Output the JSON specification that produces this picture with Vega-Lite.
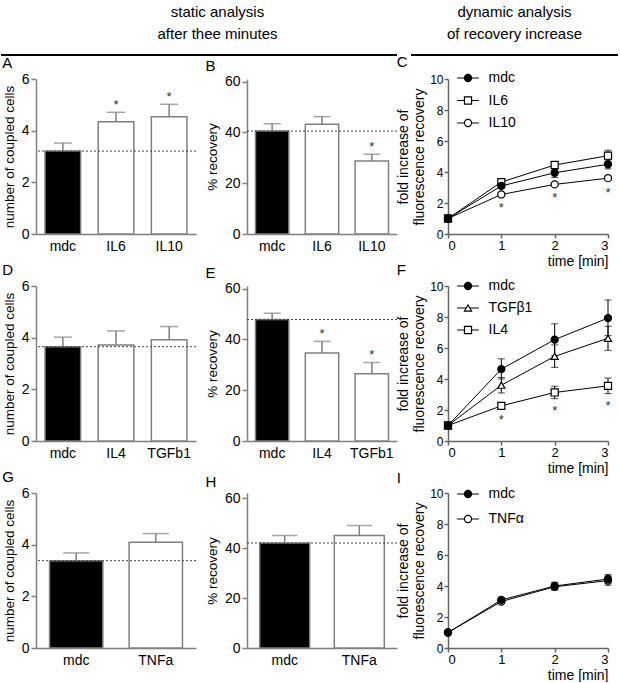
{
  "$schema": "https://vega.github.io/schema/vega-lite/v6.json",
  "padding": {"left": 0, "top": 5, "right": 0, "bottom": 0},
  "config": {
    "font": "Liberation Sans",
    "view": {"stroke": null},
    "axis": {"grid": false, "domainColor": "#808080", "tickColor": "#808080", "domainWidth": 1.5, "tickWidth": 1.5, "labelColor": "black", "titleColor": "black", "titleFontWeight": "normal", "labelFont": "Liberation Sans", "titleFont": "Liberation Sans", "labelOverlap": false},
    "title": {"fontWeight": "normal", "font": "Liberation Sans", "color": "black"}
  },
  "datasets": {
    "A": [{"group": "mdc", "value": 3.21, "upper": 3.52, "sig": false}, {"group": "IL6", "value": 4.35, "upper": 4.71, "sig": true}, {"group": "IL10", "value": 4.54, "upper": 5.02, "sig": true}],
    "B": [{"group": "mdc", "value": 40.5, "upper": 43.4, "sig": false}, {"group": "IL6", "value": 43.2, "upper": 46.2, "sig": false}, {"group": "IL10", "value": 28.7, "upper": 31.4, "sig": true}],
    "D": [{"group": "mdc", "value": 3.65, "upper": 4.02, "sig": false}, {"group": "IL4", "value": 3.72, "upper": 4.26, "sig": false}, {"group": "TGFb1", "value": 3.92, "upper": 4.43, "sig": false}],
    "E": [{"group": "mdc", "value": 47.8, "upper": 50.3, "sig": false}, {"group": "IL4", "value": 34.6, "upper": 39.2, "sig": true}, {"group": "TGFb1", "value": 26.5, "upper": 30.9, "sig": true}],
    "G": [{"group": "mdc", "value": 3.38, "upper": 3.68, "sig": false}, {"group": "TNFa", "value": 4.09, "upper": 4.43, "sig": false}],
    "H": [{"group": "mdc", "value": 42.0, "upper": 45.0, "sig": false}, {"group": "TNFa", "value": 45.0, "upper": 49.0, "sig": false}],
    "C": [
      {"series": "IL10", "time": 0, "value": 1, "sig": false},
      {"series": "IL10", "time": 1, "value": 2.55, "lo": 2.45, "hi": 2.65, "sig": true},
      {"series": "IL10", "time": 2, "value": 3.2, "lo": 3.1, "hi": 3.3, "sig": true},
      {"series": "IL10", "time": 3, "value": 3.6, "lo": 3.45, "hi": 3.75, "sig": true},
      {"series": "IL6", "time": 0, "value": 1, "sig": false},
      {"series": "IL6", "time": 1, "value": 3.35, "lo": 3.2, "hi": 3.5, "sig": false},
      {"series": "IL6", "time": 2, "value": 4.45, "lo": 4.2, "hi": 4.7, "sig": false},
      {"series": "IL6", "time": 3, "value": 5.05, "lo": 4.7, "hi": 5.4, "sig": false},
      {"series": "mdc", "time": 0, "value": 1, "sig": false},
      {"series": "mdc", "time": 1, "value": 3.1, "lo": 2.95, "hi": 3.25, "sig": false},
      {"series": "mdc", "time": 2, "value": 3.95, "lo": 3.65, "hi": 4.25, "sig": false},
      {"series": "mdc", "time": 3, "value": 4.5, "lo": 4.2, "hi": 4.8, "sig": false}
    ],
    "F": [
      {"series": "IL4", "time": 0, "value": 1, "sig": false},
      {"series": "IL4", "time": 1, "value": 2.27, "lo": 2.12, "hi": 2.42, "sig": true},
      {"series": "IL4", "time": 2, "value": 3.13, "lo": 2.73, "hi": 3.53, "sig": true},
      {"series": "IL4", "time": 3, "value": 3.56, "lo": 3.06, "hi": 4.06, "sig": true},
      {"series": "TGFβ1", "time": 0, "value": 1, "sig": false},
      {"series": "TGFβ1", "time": 1, "value": 3.6, "lo": 3.1, "hi": 4.1, "sig": false},
      {"series": "TGFβ1", "time": 2, "value": 5.46, "lo": 4.75, "hi": 6.2, "sig": false},
      {"series": "TGFβ1", "time": 3, "value": 6.63, "lo": 5.85, "hi": 7.4, "sig": false},
      {"series": "mdc", "time": 0, "value": 1, "sig": false},
      {"series": "mdc", "time": 1, "value": 4.64, "lo": 4.0, "hi": 5.3, "sig": false},
      {"series": "mdc", "time": 2, "value": 6.54, "lo": 5.5, "hi": 7.56, "sig": false},
      {"series": "mdc", "time": 3, "value": 7.93, "lo": 6.8, "hi": 9.1, "sig": false}
    ],
    "I": [
      {"series": "TNFα", "time": 0, "value": 1, "sig": false},
      {"series": "TNFα", "time": 1, "value": 3.0, "lo": 2.88, "hi": 3.12, "sig": false},
      {"series": "TNFα", "time": 2, "value": 3.95, "lo": 3.75, "hi": 4.15, "sig": false},
      {"series": "TNFα", "time": 3, "value": 4.35, "lo": 4.05, "hi": 4.65, "sig": false},
      {"series": "mdc", "time": 0, "value": 1, "sig": false},
      {"series": "mdc", "time": 1, "value": 3.1, "lo": 2.95, "hi": 3.25, "sig": false},
      {"series": "mdc", "time": 2, "value": 4.0, "lo": 3.75, "hi": 4.25, "sig": false},
      {"series": "mdc", "time": 3, "value": 4.45, "lo": 4.15, "hi": 4.75, "sig": false}
    ]
  },
  "concat": [
    {
      "hconcat": [
        {
          "width": 361, "height": 1,
          "title": {"text": ["static analysis", "after thee minutes"], "anchor": "middle", "fontSize": 15, "lineHeight": 22, "dx": 1, "offset": 12},
          "data": {"values": [{"section": "static"}]},
          "mark": {"type": "rule", "color": "black", "strokeWidth": 2},
          "encoding": {
            "x": {"datum": -35, "type": "quantitative", "scale": {"domain": [0, 361]}, "axis": null},
            "x2": {"datum": 361},
            "y": {"datum": 0, "type": "quantitative", "scale": {"domain": [0, 1]}, "axis": null}}
        },
        {
          "width": 207, "height": 1,
          "title": {"text": ["dynamic analysis", "of recovery increase"], "anchor": "middle", "fontSize": 15, "lineHeight": 22, "offset": 12},
          "data": {"values": [{"section": "dynamic"}]},
          "mark": {"type": "rule", "color": "black", "strokeWidth": 2},
          "encoding": {"y": {"datum": 0, "type": "quantitative", "scale": {"domain": [0, 1]}, "axis": null}}
        }
      ],
      "spacing": 12
    },
    {
      "concat": [
        {
          "title": {"text": "A", "anchor": "start", "frame": "bounds", "fontSize": 15, "offset": 1},
          "width": 160, "height": 155,
          "data": {"name": "A"},
          "layer": [
            {"mark": {"type": "bar", "stroke": "#808080", "strokeWidth": 1.5},
             "encoding": {
               "x": {"field": "group", "type": "nominal", "sort": null, "scale": {"paddingInner": 0.33, "paddingOuter": 0.17}, "axis": {"title": null, "labelAngle": 0, "ticks": false, "labelFontSize": 14, "labelPadding": 5}},
               "y": {"field": "value", "type": "quantitative", "scale": {"domain": [0, 6], "nice": false}, "axis": {"values": [0, 2, 4, 6], "title": "number of coupled cells", "titleFontSize": 13.5, "labelFontSize": 14, "tickSize": 5, "labelPadding": 2, "titlePadding": 5}},
               "fill": {"condition": {"test": "datum.group === 'mdc'", "value": "black"}, "value": "white"}}},
            {"mark": {"type": "rule", "color": "#808080", "strokeWidth": 1.5},
             "encoding": {"x": {"field": "group", "type": "nominal", "sort": null}, "y": {"field": "value", "type": "quantitative"}, "y2": {"field": "upper"}}},
            {"mark": {"type": "tick", "orient": "horizontal", "color": "#808080", "thickness": 1.5, "size": 18},
             "encoding": {"x": {"field": "group", "type": "nominal", "sort": null}, "y": {"field": "upper", "type": "quantitative"}}},
            {"transform": [{"filter": "datum.sig"}], "mark": {"type": "text", "text": "*", "fontSize": 13, "dy": -7, "baseline": "middle", "color": "#333"},
             "encoding": {"x": {"field": "group", "type": "nominal", "sort": null}, "y": {"field": "upper", "type": "quantitative"}}},
            {"transform": [{"filter": "datum.group === 'mdc'"}], "mark": {"type": "rule", "color": "#444", "strokeDash": [2, 2], "strokeWidth": 1},
             "encoding": {"y": {"field": "value", "type": "quantitative"}}}
          ]
        },
        {
          "title": {"text": "B", "anchor": "start", "frame": "bounds", "fontSize": 15, "offset": 1},
          "width": 150, "height": 155,
          "data": {"name": "B"},
          "layer": [
            {"mark": {"type": "bar", "stroke": "#808080", "strokeWidth": 1.5},
             "encoding": {
               "x": {"field": "group", "type": "nominal", "sort": null, "scale": {"paddingInner": 0.33, "paddingOuter": 0.17}, "axis": {"title": null, "labelAngle": 0, "ticks": false, "labelFontSize": 14, "labelPadding": 5}},
               "y": {"field": "value", "type": "quantitative", "scale": {"domain": [0, 61], "nice": false}, "axis": {"values": [0, 20, 40, 60], "title": "% recovery", "titleFontSize": 13.5, "labelFontSize": 14, "tickSize": 5, "labelPadding": 2, "titlePadding": 5}},
               "fill": {"condition": {"test": "datum.group === 'mdc'", "value": "black"}, "value": "white"}}},
            {"mark": {"type": "rule", "color": "#808080", "strokeWidth": 1.5},
             "encoding": {"x": {"field": "group", "type": "nominal", "sort": null}, "y": {"field": "value", "type": "quantitative"}, "y2": {"field": "upper"}}},
            {"mark": {"type": "tick", "orient": "horizontal", "color": "#808080", "thickness": 1.5, "size": 17},
             "encoding": {"x": {"field": "group", "type": "nominal", "sort": null}, "y": {"field": "upper", "type": "quantitative"}}},
            {"transform": [{"filter": "datum.sig"}], "mark": {"type": "text", "text": "*", "fontSize": 13, "dy": -7, "baseline": "middle", "color": "#333"},
             "encoding": {"x": {"field": "group", "type": "nominal", "sort": null}, "y": {"field": "upper", "type": "quantitative"}}},
            {"transform": [{"filter": "datum.group === 'mdc'"}], "mark": {"type": "rule", "color": "#444", "strokeDash": [2, 2], "strokeWidth": 1},
             "encoding": {"y": {"field": "value", "type": "quantitative"}}}
          ]
        },
        {
          "title": {"text": "C", "anchor": "start", "frame": "bounds", "fontSize": 15, "offset": 1},
          "width": 160, "height": 155,
          "data": {"name": "C"},
          "resolve": {"scale": {"y": "independent"}},
          "layer": [
            {"layer": [
              {"mark": {"type": "line", "color": "black", "strokeWidth": 1},
               "encoding": {
                 "x": {"field": "time", "type": "quantitative", "scale": {"domain": [0, 3], "nice": false}, "axis": {"values": [0, 1, 2, 3], "format": "d", "title": "time [min]", "titleAnchor": "end", "titleFontSize": 14, "titlePadding": 2, "labelFontSize": 13, "tickSize": 4, "labelPadding": 1, "domainColor": "#666", "tickColor": "#666"}},
                 "y": {"field": "value", "type": "quantitative", "scale": {"domain": [0, 10], "nice": false}, "axis": {"values": [0, 2, 4, 6, 8, 10], "labelOverlap": false, "title": ["fold increase of", "fluorescence recovery"], "titleFontSize": 14, "titleLineHeight": 16, "labelFontSize": 12, "tickSize": 4, "labelPadding": 1, "titlePadding": 3, "domainColor": "#666", "tickColor": "#666"}},
                 "detail": {"field": "series"}}},
              {"transform": [{"filter": "isValid(datum.lo)"}], "mark": {"type": "rule", "color": "black", "strokeWidth": 1},
               "encoding": {"x": {"field": "time", "type": "quantitative"}, "y": {"field": "lo", "type": "quantitative", "axis": {"values": [0, 2, 4, 6, 8, 10], "labelOverlap": false, "title": ["fold increase of", "fluorescence recovery"]}}, "y2": {"field": "hi"}}},
              {"transform": [{"filter": "isValid(datum.lo)"}], "mark": {"type": "tick", "orient": "horizontal", "color": "black", "thickness": 1, "size": 7},
               "encoding": {"x": {"field": "time", "type": "quantitative"}, "y": {"field": "hi", "type": "quantitative", "axis": {"values": [0, 2, 4, 6, 8, 10], "labelOverlap": false, "title": ["fold increase of", "fluorescence recovery"]}}}},
              {"transform": [{"filter": "isValid(datum.lo)"}], "mark": {"type": "tick", "orient": "horizontal", "color": "black", "thickness": 1, "size": 7},
               "encoding": {"x": {"field": "time", "type": "quantitative"}, "y": {"field": "lo", "type": "quantitative", "axis": {"values": [0, 2, 4, 6, 8, 10], "labelOverlap": false, "title": ["fold increase of", "fluorescence recovery"]}}}},
              {"mark": {"type": "point", "stroke": "black", "strokeWidth": 1.2, "size": 50, "opacity": 1},
               "encoding": {
                 "x": {"field": "time", "type": "quantitative"},
                 "y": {"field": "value", "type": "quantitative", "axis": {"values": [0, 2, 4, 6, 8, 10], "labelOverlap": false, "title": ["fold increase of", "fluorescence recovery"]}},
                 "shape": {"field": "series", "type": "nominal", "scale": {"domain": ["mdc", "IL6", "IL10"], "range": ["circle", "square", "circle"]}, "legend": null},
                 "fill": {"field": "series", "type": "nominal", "scale": {"domain": ["mdc", "IL6", "IL10"], "range": ["black", "white", "white"]}, "legend": null}}},
              {"transform": [{"filter": "datum.sig"}], "mark": {"type": "text", "text": "*", "fontSize": 13, "dy": 12, "baseline": "middle", "color": "#333"},
               "encoding": {"x": {"field": "time", "type": "quantitative"}, "y": {"field": "lo", "type": "quantitative", "axis": {"values": [0, 2, 4, 6, 8, 10], "labelOverlap": false, "title": ["fold increase of", "fluorescence recovery"]}}}}
            ]},
            {"transform": [{"filter": "datum.time === 0"}],
             "layer": [
              {"mark": {"type": "rule", "color": "black", "strokeWidth": 1},
               "encoding": {"x": {"datum": 0.17, "type": "quantitative"}, "x2": {"datum": 0.58}, "y": {"field": "series", "type": "nominal", "scale": {"type": "point", "domain": ["mdc", "IL6", "IL10"], "range": [-1, 44], "padding": 0}, "axis": null}}},
              {"mark": {"type": "point", "stroke": "black", "strokeWidth": 1.2, "size": 50, "opacity": 1},
               "encoding": {"x": {"datum": 0.375, "type": "quantitative"}, "y": {"field": "series", "type": "nominal"}, "shape": {"field": "series", "type": "nominal", "legend": null}, "fill": {"field": "series", "type": "nominal", "legend": null}}},
              {"mark": {"type": "text", "align": "left", "baseline": "middle", "fontSize": 14, "color": "black"},
               "encoding": {"x": {"datum": 0.76, "type": "quantitative"}, "y": {"field": "series", "type": "nominal"}, "text": {"field": "series"}}}
            ]}
          ]
        },
        {
          "title": {"text": "D", "anchor": "start", "frame": "bounds", "fontSize": 15, "offset": 1},
          "width": 160, "height": 155,
          "data": {"name": "D"},
          "layer": [
            {"mark": {"type": "bar", "stroke": "#808080", "strokeWidth": 1.5},
             "encoding": {
               "x": {"field": "group", "type": "nominal", "sort": null, "scale": {"paddingInner": 0.33, "paddingOuter": 0.17}, "axis": {"title": null, "labelAngle": 0, "ticks": false, "labelFontSize": 14, "labelPadding": 5}},
               "y": {"field": "value", "type": "quantitative", "scale": {"domain": [0, 6], "nice": false}, "axis": {"values": [0, 2, 4, 6], "title": "number of coupled cells", "titleFontSize": 13.5, "labelFontSize": 14, "tickSize": 5, "labelPadding": 2, "titlePadding": 5}},
               "fill": {"condition": {"test": "datum.group === 'mdc'", "value": "black"}, "value": "white"}}},
            {"mark": {"type": "rule", "color": "#808080", "strokeWidth": 1.5},
             "encoding": {"x": {"field": "group", "type": "nominal", "sort": null}, "y": {"field": "value", "type": "quantitative"}, "y2": {"field": "upper"}}},
            {"mark": {"type": "tick", "orient": "horizontal", "color": "#808080", "thickness": 1.5, "size": 18},
             "encoding": {"x": {"field": "group", "type": "nominal", "sort": null}, "y": {"field": "upper", "type": "quantitative"}}},
            {"transform": [{"filter": "datum.sig"}], "mark": {"type": "text", "text": "*", "fontSize": 13, "dy": -7, "baseline": "middle", "color": "#333"},
             "encoding": {"x": {"field": "group", "type": "nominal", "sort": null}, "y": {"field": "upper", "type": "quantitative"}}},
            {"transform": [{"filter": "datum.group === 'mdc'"}], "mark": {"type": "rule", "color": "#444", "strokeDash": [2, 2], "strokeWidth": 1},
             "encoding": {"y": {"field": "value", "type": "quantitative"}}}
          ]
        },
        {
          "title": {"text": "E", "anchor": "start", "frame": "bounds", "fontSize": 15, "offset": 1},
          "width": 150, "height": 155,
          "data": {"name": "E"},
          "layer": [
            {"mark": {"type": "bar", "stroke": "#808080", "strokeWidth": 1.5},
             "encoding": {
               "x": {"field": "group", "type": "nominal", "sort": null, "scale": {"paddingInner": 0.33, "paddingOuter": 0.17}, "axis": {"title": null, "labelAngle": 0, "ticks": false, "labelFontSize": 14, "labelPadding": 5}},
               "y": {"field": "value", "type": "quantitative", "scale": {"domain": [0, 61], "nice": false}, "axis": {"values": [0, 20, 40, 60], "title": "% recovery", "titleFontSize": 13.5, "labelFontSize": 14, "tickSize": 5, "labelPadding": 2, "titlePadding": 5}},
               "fill": {"condition": {"test": "datum.group === 'mdc'", "value": "black"}, "value": "white"}}},
            {"mark": {"type": "rule", "color": "#808080", "strokeWidth": 1.5},
             "encoding": {"x": {"field": "group", "type": "nominal", "sort": null}, "y": {"field": "value", "type": "quantitative"}, "y2": {"field": "upper"}}},
            {"mark": {"type": "tick", "orient": "horizontal", "color": "#808080", "thickness": 1.5, "size": 17},
             "encoding": {"x": {"field": "group", "type": "nominal", "sort": null}, "y": {"field": "upper", "type": "quantitative"}}},
            {"transform": [{"filter": "datum.sig"}], "mark": {"type": "text", "text": "*", "fontSize": 13, "dy": -7, "baseline": "middle", "color": "#333"},
             "encoding": {"x": {"field": "group", "type": "nominal", "sort": null}, "y": {"field": "upper", "type": "quantitative"}}},
            {"transform": [{"filter": "datum.group === 'mdc'"}], "mark": {"type": "rule", "color": "#444", "strokeDash": [2, 2], "strokeWidth": 1},
             "encoding": {"y": {"field": "value", "type": "quantitative"}}}
          ]
        },
        {
          "title": {"text": "F", "anchor": "start", "frame": "bounds", "fontSize": 15, "offset": 1},
          "width": 160, "height": 155,
          "data": {"name": "F"},
          "resolve": {"scale": {"y": "independent"}},
          "layer": [
            {"layer": [
              {"mark": {"type": "line", "color": "black", "strokeWidth": 1},
               "encoding": {
                 "x": {"field": "time", "type": "quantitative", "scale": {"domain": [0, 3], "nice": false}, "axis": {"values": [0, 1, 2, 3], "format": "d", "title": "time [min]", "titleAnchor": "end", "titleFontSize": 14, "titlePadding": 2, "labelFontSize": 13, "tickSize": 4, "labelPadding": 1, "domainColor": "#666", "tickColor": "#666"}},
                 "y": {"field": "value", "type": "quantitative", "scale": {"domain": [0, 10], "nice": false}, "axis": {"values": [0, 2, 4, 6, 8, 10], "labelOverlap": false, "title": ["fold increase of", "fluorescence recovery"], "titleFontSize": 14, "titleLineHeight": 16, "labelFontSize": 12, "tickSize": 4, "labelPadding": 1, "titlePadding": 3, "domainColor": "#666", "tickColor": "#666"}},
                 "detail": {"field": "series"}}},
              {"transform": [{"filter": "isValid(datum.lo)"}], "mark": {"type": "rule", "color": "black", "strokeWidth": 1},
               "encoding": {"x": {"field": "time", "type": "quantitative"}, "y": {"field": "lo", "type": "quantitative", "axis": {"values": [0, 2, 4, 6, 8, 10], "labelOverlap": false, "title": ["fold increase of", "fluorescence recovery"]}}, "y2": {"field": "hi"}}},
              {"transform": [{"filter": "isValid(datum.lo)"}], "mark": {"type": "tick", "orient": "horizontal", "color": "black", "thickness": 1, "size": 7},
               "encoding": {"x": {"field": "time", "type": "quantitative"}, "y": {"field": "hi", "type": "quantitative", "axis": {"values": [0, 2, 4, 6, 8, 10], "labelOverlap": false, "title": ["fold increase of", "fluorescence recovery"]}}}},
              {"transform": [{"filter": "isValid(datum.lo)"}], "mark": {"type": "tick", "orient": "horizontal", "color": "black", "thickness": 1, "size": 7},
               "encoding": {"x": {"field": "time", "type": "quantitative"}, "y": {"field": "lo", "type": "quantitative", "axis": {"values": [0, 2, 4, 6, 8, 10], "labelOverlap": false, "title": ["fold increase of", "fluorescence recovery"]}}}},
              {"mark": {"type": "point", "stroke": "black", "strokeWidth": 1.2, "size": 50, "opacity": 1},
               "encoding": {
                 "x": {"field": "time", "type": "quantitative"},
                 "y": {"field": "value", "type": "quantitative", "axis": {"values": [0, 2, 4, 6, 8, 10], "labelOverlap": false, "title": ["fold increase of", "fluorescence recovery"]}},
                 "shape": {"field": "series", "type": "nominal", "scale": {"domain": ["mdc", "TGFβ1", "IL4"], "range": ["circle", "triangle-up", "square"]}, "legend": null},
                 "fill": {"field": "series", "type": "nominal", "scale": {"domain": ["mdc", "TGFβ1", "IL4"], "range": ["black", "white", "white"]}, "legend": null}}},
              {"transform": [{"filter": "datum.sig"}], "mark": {"type": "text", "text": "*", "fontSize": 13, "dy": 12, "baseline": "middle", "color": "#333"},
               "encoding": {"x": {"field": "time", "type": "quantitative"}, "y": {"field": "lo", "type": "quantitative", "axis": {"values": [0, 2, 4, 6, 8, 10], "labelOverlap": false, "title": ["fold increase of", "fluorescence recovery"]}}}}
            ]},
            {"transform": [{"filter": "datum.time === 0"}],
             "layer": [
              {"mark": {"type": "rule", "color": "black", "strokeWidth": 1},
               "encoding": {"x": {"datum": 0.17, "type": "quantitative"}, "x2": {"datum": 0.58}, "y": {"field": "series", "type": "nominal", "scale": {"type": "point", "domain": ["mdc", "TGFβ1", "IL4"], "range": [0, 44], "padding": 0}, "axis": null}}},
              {"mark": {"type": "point", "stroke": "black", "strokeWidth": 1.2, "size": 50, "opacity": 1},
               "encoding": {"x": {"datum": 0.375, "type": "quantitative"}, "y": {"field": "series", "type": "nominal"}, "shape": {"field": "series", "type": "nominal", "legend": null}, "fill": {"field": "series", "type": "nominal", "legend": null}}},
              {"mark": {"type": "text", "align": "left", "baseline": "middle", "fontSize": 14, "color": "black"},
               "encoding": {"x": {"datum": 0.76, "type": "quantitative"}, "y": {"field": "series", "type": "nominal"}, "text": {"field": "series"}}}
            ]}
          ]
        },
        {
          "title": {"text": "G", "anchor": "start", "frame": "bounds", "fontSize": 15, "offset": 1},
          "width": 160, "height": 155,
          "data": {"name": "G"},
          "layer": [
            {"mark": {"type": "bar", "stroke": "#808080", "strokeWidth": 1.5},
             "encoding": {
               "x": {"field": "group", "type": "nominal", "sort": null, "scale": {"paddingInner": 0.33, "paddingOuter": 0.17}, "axis": {"title": null, "labelAngle": 0, "ticks": false, "labelFontSize": 14, "labelPadding": 5}},
               "y": {"field": "value", "type": "quantitative", "scale": {"domain": [0, 6], "nice": false}, "axis": {"values": [0, 2, 4, 6], "title": "number of coupled cells", "titleFontSize": 13.5, "labelFontSize": 14, "tickSize": 5, "labelPadding": 2, "titlePadding": 5}},
               "fill": {"condition": {"test": "datum.group === 'mdc'", "value": "black"}, "value": "white"}}},
            {"mark": {"type": "rule", "color": "#808080", "strokeWidth": 1.5},
             "encoding": {"x": {"field": "group", "type": "nominal", "sort": null}, "y": {"field": "value", "type": "quantitative"}, "y2": {"field": "upper"}}},
            {"mark": {"type": "tick", "orient": "horizontal", "color": "#808080", "thickness": 1.5, "size": 26},
             "encoding": {"x": {"field": "group", "type": "nominal", "sort": null}, "y": {"field": "upper", "type": "quantitative"}}},
            {"transform": [{"filter": "datum.group === 'mdc'"}], "mark": {"type": "rule", "color": "#444", "strokeDash": [2, 2], "strokeWidth": 1},
             "encoding": {"y": {"field": "value", "type": "quantitative"}}}
          ]
        },
        {
          "title": {"text": "H", "anchor": "start", "frame": "bounds", "fontSize": 15, "offset": 1},
          "width": 150, "height": 155,
          "data": {"name": "H"},
          "layer": [
            {"mark": {"type": "bar", "stroke": "#808080", "strokeWidth": 1.5},
             "encoding": {
               "x": {"field": "group", "type": "nominal", "sort": null, "scale": {"paddingInner": 0.33, "paddingOuter": 0.17}, "axis": {"title": null, "labelAngle": 0, "ticks": false, "labelFontSize": 14, "labelPadding": 5}},
               "y": {"field": "value", "type": "quantitative", "scale": {"domain": [0, 62], "nice": false}, "axis": {"values": [0, 20, 40, 60], "title": "% recovery", "titleFontSize": 13.5, "labelFontSize": 14, "tickSize": 5, "labelPadding": 2, "titlePadding": 5}},
               "fill": {"condition": {"test": "datum.group === 'mdc'", "value": "black"}, "value": "white"}}},
            {"mark": {"type": "rule", "color": "#808080", "strokeWidth": 1.5},
             "encoding": {"x": {"field": "group", "type": "nominal", "sort": null}, "y": {"field": "value", "type": "quantitative"}, "y2": {"field": "upper"}}},
            {"mark": {"type": "tick", "orient": "horizontal", "color": "#808080", "thickness": 1.5, "size": 25},
             "encoding": {"x": {"field": "group", "type": "nominal", "sort": null}, "y": {"field": "upper", "type": "quantitative"}}},
            {"transform": [{"filter": "datum.group === 'mdc'"}], "mark": {"type": "rule", "color": "#444", "strokeDash": [2, 2], "strokeWidth": 1},
             "encoding": {"y": {"field": "value", "type": "quantitative"}}}
          ]
        },
        {
          "title": {"text": "I", "anchor": "start", "frame": "bounds", "fontSize": 15, "offset": 1},
          "width": 160, "height": 155,
          "data": {"name": "I"},
          "resolve": {"scale": {"y": "independent"}},
          "layer": [
            {"layer": [
              {"mark": {"type": "line", "color": "black", "strokeWidth": 1},
               "encoding": {
                 "x": {"field": "time", "type": "quantitative", "scale": {"domain": [0, 3], "nice": false}, "axis": {"values": [0, 1, 2, 3], "format": "d", "title": "time [min]", "titleAnchor": "end", "titleFontSize": 14, "titlePadding": 2, "labelFontSize": 13, "tickSize": 4, "labelPadding": 1, "domainColor": "#666", "tickColor": "#666"}},
                 "y": {"field": "value", "type": "quantitative", "scale": {"domain": [0, 10], "nice": false}, "axis": {"values": [0, 2, 4, 6, 8, 10], "labelOverlap": false, "title": ["fold increase of", "fluorescence recovery"], "titleFontSize": 14, "titleLineHeight": 16, "labelFontSize": 12, "tickSize": 4, "labelPadding": 1, "titlePadding": 3, "domainColor": "#666", "tickColor": "#666"}},
                 "detail": {"field": "series"}}},
              {"transform": [{"filter": "isValid(datum.lo)"}], "mark": {"type": "rule", "color": "black", "strokeWidth": 1},
               "encoding": {"x": {"field": "time", "type": "quantitative"}, "y": {"field": "lo", "type": "quantitative", "axis": {"values": [0, 2, 4, 6, 8, 10], "labelOverlap": false, "title": ["fold increase of", "fluorescence recovery"]}}, "y2": {"field": "hi"}}},
              {"transform": [{"filter": "isValid(datum.lo)"}], "mark": {"type": "tick", "orient": "horizontal", "color": "black", "thickness": 1, "size": 7},
               "encoding": {"x": {"field": "time", "type": "quantitative"}, "y": {"field": "hi", "type": "quantitative", "axis": {"values": [0, 2, 4, 6, 8, 10], "labelOverlap": false, "title": ["fold increase of", "fluorescence recovery"]}}}},
              {"transform": [{"filter": "isValid(datum.lo)"}], "mark": {"type": "tick", "orient": "horizontal", "color": "black", "thickness": 1, "size": 7},
               "encoding": {"x": {"field": "time", "type": "quantitative"}, "y": {"field": "lo", "type": "quantitative", "axis": {"values": [0, 2, 4, 6, 8, 10], "labelOverlap": false, "title": ["fold increase of", "fluorescence recovery"]}}}},
              {"mark": {"type": "point", "stroke": "black", "strokeWidth": 1.2, "size": 50, "opacity": 1},
               "encoding": {
                 "x": {"field": "time", "type": "quantitative"},
                 "y": {"field": "value", "type": "quantitative", "axis": {"values": [0, 2, 4, 6, 8, 10], "labelOverlap": false, "title": ["fold increase of", "fluorescence recovery"]}},
                 "shape": {"field": "series", "type": "nominal", "scale": {"domain": ["mdc", "TNFα"], "range": ["circle", "circle"]}, "legend": null},
                 "fill": {"field": "series", "type": "nominal", "scale": {"domain": ["mdc", "TNFα"], "range": ["black", "white"]}, "legend": null}}}
            ]},
            {"transform": [{"filter": "datum.time === 0"}],
             "layer": [
              {"mark": {"type": "rule", "color": "black", "strokeWidth": 1},
               "encoding": {"x": {"datum": 0.17, "type": "quantitative"}, "x2": {"datum": 0.58}, "y": {"field": "series", "type": "nominal", "scale": {"type": "point", "domain": ["mdc", "TNFα"], "range": [1, 26], "padding": 0}, "axis": null}}},
              {"mark": {"type": "point", "stroke": "black", "strokeWidth": 1.2, "size": 50, "opacity": 1},
               "encoding": {"x": {"datum": 0.375, "type": "quantitative"}, "y": {"field": "series", "type": "nominal"}, "shape": {"field": "series", "type": "nominal", "legend": null}, "fill": {"field": "series", "type": "nominal", "legend": null}}},
              {"mark": {"type": "text", "align": "left", "baseline": "middle", "fontSize": 14, "color": "black"},
               "encoding": {"x": {"datum": 0.76, "type": "quantitative"}, "y": {"field": "series", "type": "nominal"}, "text": {"field": "series"}}}
            ]}
          ]
        }
      ],
      "columns": 3,
      "bounds": "flush",
      "align": "each",
      "spacing": {"row": 52, "column": 51},
      "resolve": {"scale": {"shape": "independent", "fill": "independent"}}
    }
  ],
  "columns": 1,
  "align": "none",
  "spacing": -1
}
